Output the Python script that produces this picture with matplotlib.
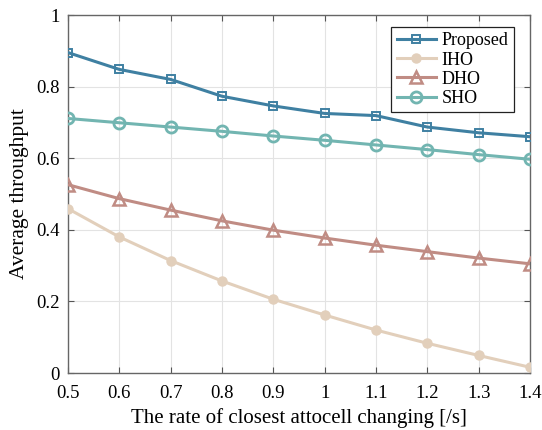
import matplotlib
matplotlib.use("Agg")
import matplotlib.pyplot as plt

x = [0.5, 0.6, 0.7, 0.8, 0.9, 1.0, 1.1, 1.2, 1.3, 1.4]
proposed = [0.895, 0.848, 0.820, 0.773, 0.746, 0.725, 0.719, 0.687, 0.671, 0.660]
iho = [0.459, 0.380, 0.314, 0.257, 0.206, 0.162, 0.120, 0.083, 0.049, 0.016]
dho = [0.526, 0.487, 0.455, 0.425, 0.399, 0.377, 0.357, 0.339, 0.321, 0.305]
sho = [0.711, 0.699, 0.687, 0.675, 0.662, 0.650, 0.637, 0.624, 0.610, 0.597]
xticks = [0.5, 0.6, 0.7, 0.8, 0.9, 1, 1.1, 1.2, 1.3, 1.4]
xticklabels = ["0.5", "0.6", "0.7", "0.8", "0.9", "1", "1.1", "1.2", "1.3", "1.4"]
yticks = [0, 0.2, 0.4, 0.6, 0.8, 1]
yticklabels = ["0", "0.2", "0.4", "0.6", "0.8", "1"]

plt.rcParams['font.family'] = ['Liberation Serif', 'DejaVu Serif']

fig = plt.figure(figsize=(5.42, 4.30), dpi=100)
ax = fig.add_axes([68/542, 57/430, (530-68)/542, (373-15)/430])

c_prop = '#3f80a2'
c_iho = '#e2cfbb'
c_dho = '#c08c84'
c_sho = '#72b5b1'

ax.plot(x, proposed, color=c_prop, lw=2.2, marker='s', ms=6, mfc='none', mew=1.4, label='Proposed', zorder=5)
ax.plot(x, iho, color=c_iho, lw=2.2, marker='o', ms=6.5, mfc=c_iho, mec=c_iho, label='IHO', zorder=4)
ax.plot(x, dho, color=c_dho, lw=2.2, marker='^', ms=9, mfc='none', mew=1.8, label='DHO', zorder=4)
ax.plot(x, sho, color=c_sho, lw=2.2, marker='o', ms=8, mfc='none', mew=2.0, label='SHO', zorder=4)

ax.set_xlim(0.5, 1.4)
ax.set_ylim(0, 1)
ax.set_xticks(xticks)
ax.set_xticklabels(xticklabels)
ax.set_yticks(yticks)
ax.set_yticklabels(yticklabels)
ax.grid(True, color='#e3e3e3', lw=0.8)
ax.set_axisbelow(True)
ax.tick_params(direction='in', length=4, labelsize=13.5, color='#555555', top=True, right=True)
ax.tick_params(axis='x', pad=9)
ax.tick_params(axis='y', pad=6)
for s in ax.spines.values():
    s.set_color('#666666')
    s.set_linewidth(1.0)
ax.set_xlabel('The rate of closest attocell changing [/s]', fontsize=15, labelpad=4)
ax.set_ylabel('Average throughput', fontsize=15.5, labelpad=5)

leg = ax.legend(loc='upper right', fontsize=13, fancybox=False, framealpha=1,
                edgecolor='#222222', borderpad=0.3, handlelength=2.2, labelspacing=0.12,
                handletextpad=0.3, borderaxespad=0.0,
                bbox_to_anchor=((514 - 68) / 462, (373 - 27) / 358))
leg.get_frame().set_linewidth(0.9)

fig.savefig('out.png', dpi=100)
